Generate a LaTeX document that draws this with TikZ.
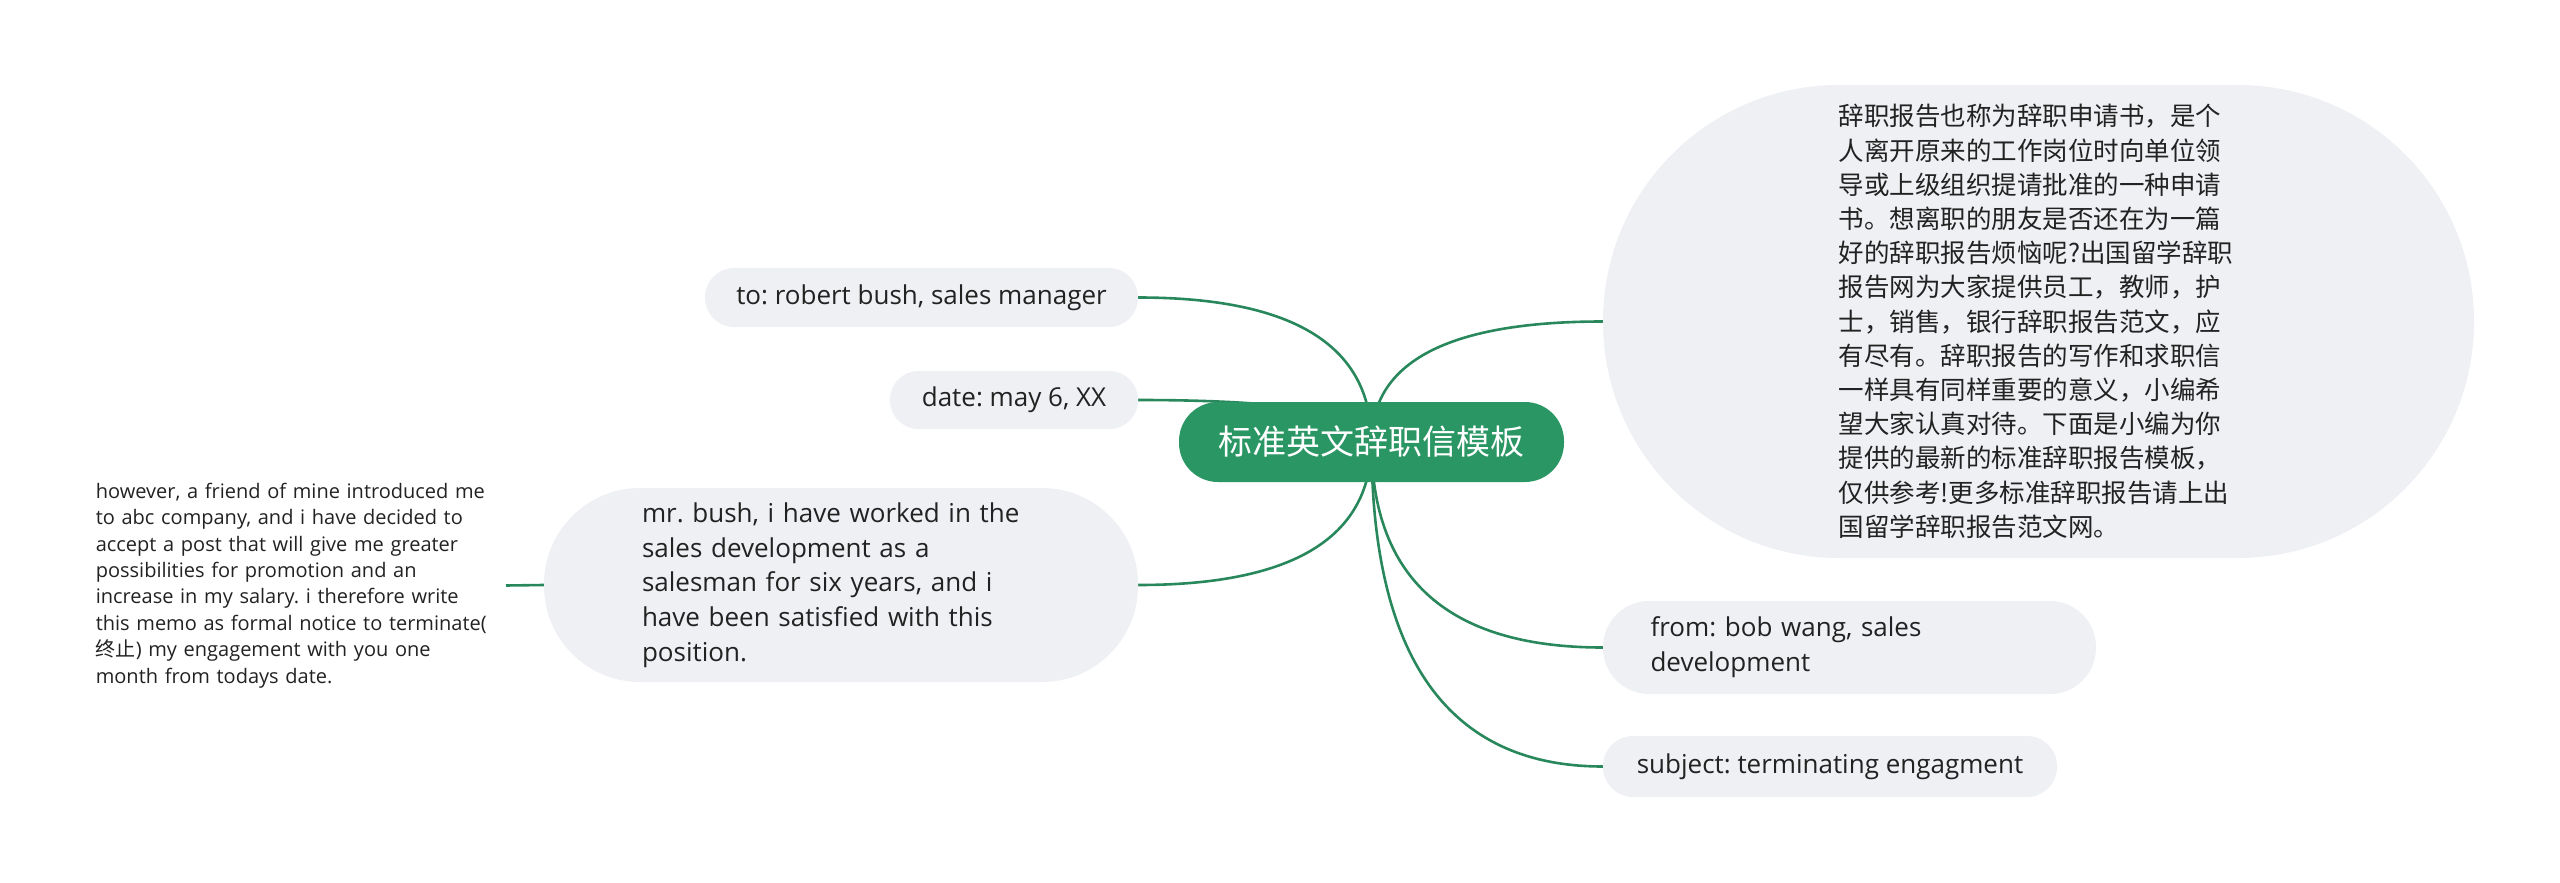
\documentclass[tikz,border=0pt]{standalone}
\usepackage{fontspec}
\setmainfont{Open Sans}
\newfontfamily\cjk{Noto Sans CJK SC}
\usetikzlibrary{calc,backgrounds}
\definecolor{mmgreen}{HTML}{2A9664}
\definecolor{lnk}{HTML}{28885C}
\definecolor{boxfill}{HTML}{EEF0F3}
\definecolor{ink}{HTML}{222222}
\frenchspacing
\hyphenpenalty=10000
\exhyphenpenalty=10000
\tikzset{
  rootbox/.style={fill=mmgreen, text=white, inner sep=0pt, align=center,
    font=\cjk\fontsize{34pt}{40pt}\selectfont},
  topicbox/.style={fill=boxfill, text=ink, inner sep=0pt, align=center,
    font=\fontsize{26pt}{34.7pt}\selectfont},
  wrapbox/.style={topicbox, text width=398pt, align=left},
  plaintext/.style={text=ink, inner xsep=5pt, inner ysep=0pt, text width=405pt, align=left,
    font=\fontsize{20pt}{26.4pt}\selectfont},
  conn/.style={draw=lnk, line width=2.6pt},
}
\newcommand\linkto[2]{%
  \coordinate (q-#2) at (#1.center |- #2.west);
  \draw[conn] (#1.center) .. controls ($(#1.center)!0.6667!(q-#2)$) and ($(#2.west)!0.6667!(q-#2)$) .. (#2.west);}
\newcommand\linkfrom[2]{%
  \coordinate (q-#2) at (#1.center |- #2.east);
  \draw[conn] (#1.center) .. controls ($(#1.center)!0.6667!(q-#2)$) and ($(#2.east)!0.6667!(q-#2)$) .. (#2.east);}
\begin{document}
\begin{tikzpicture}[x=1pt,y=-1pt]
\useasboundingbox (0,0) rectangle (2560,883);

\node[rootbox, minimum width=385pt, minimum height=80pt, rounded corners=39pt] (root) at (1371.5,442) {标准英文辞职信模板};

\node[topicbox, minimum width=433pt, minimum height=59pt, rounded corners=29pt] (to) at (921.5,297.5) {to: robert bush, sales manager};
\node[topicbox, minimum width=248pt, minimum height=58pt, rounded corners=28.5pt] (date) at (1014,400) {date: may 6, XX};
\node[wrapbox, minimum width=594pt, minimum height=194pt, rounded corners=96pt] (mr) at (841,585) {mr. bush, i have worked in the\\sales development as a\\salesman for six years, and i\\have been satisfied with this\\position.};
\node[plaintext, anchor=east] (left) at (506,585.5) {however, a friend of mine introduced me\\to abc company, and i have decided to\\accept a post that will give me greater\\possibilities for promotion and an\\increase in my salary. i therefore write\\this memo as formal notice to terminate(\\{\cjk 终止}) my engagement with you one\\month from todays date.};

\node[topicbox, text width=400pt, align=left, minimum width=871pt, minimum height=473pt, rounded corners=236pt,
  font=\cjk\fontsize{25.5pt}{34.2pt}\selectfont] (big) at (2038.5,321.5) {辞职报告也称为辞职申请书，是个\\人离开原来的工作岗位时向单位领\\导或上级组织提请批准的一种申请\\书。想离职的朋友是否还在为一篇\\好的辞职报告烦恼呢?出国留学辞职\\报告网为大家提供员工，教师，护\\士，销售，银行辞职报告范文，应\\有尽有。辞职报告的写作和求职信\\一样具有同样重要的意义，小编希\\望大家认真对待。下面是小编为你\\提供的最新的标准辞职报告模板，\\仅供参考!更多标准辞职报告请上出\\国留学辞职报告范文网。};
\node[wrapbox, minimum width=493pt, minimum height=93pt, rounded corners=46pt] (from) at (1849.5,647.5) {from: bob wang, sales\\development};
\node[topicbox, minimum width=454pt, minimum height=61pt, rounded corners=30pt] (subj) at (1830,766.5) {subject: terminating engagment};

\begin{scope}[on background layer]
\linkfrom{root}{to}
\linkfrom{root}{date}
\linkfrom{root}{mr}
\linkto{root}{big}
\linkto{root}{from}
\linkto{root}{subj}
\draw[conn] (mr.west) -- (left.east);
\end{scope}
\end{tikzpicture}
\end{document}
